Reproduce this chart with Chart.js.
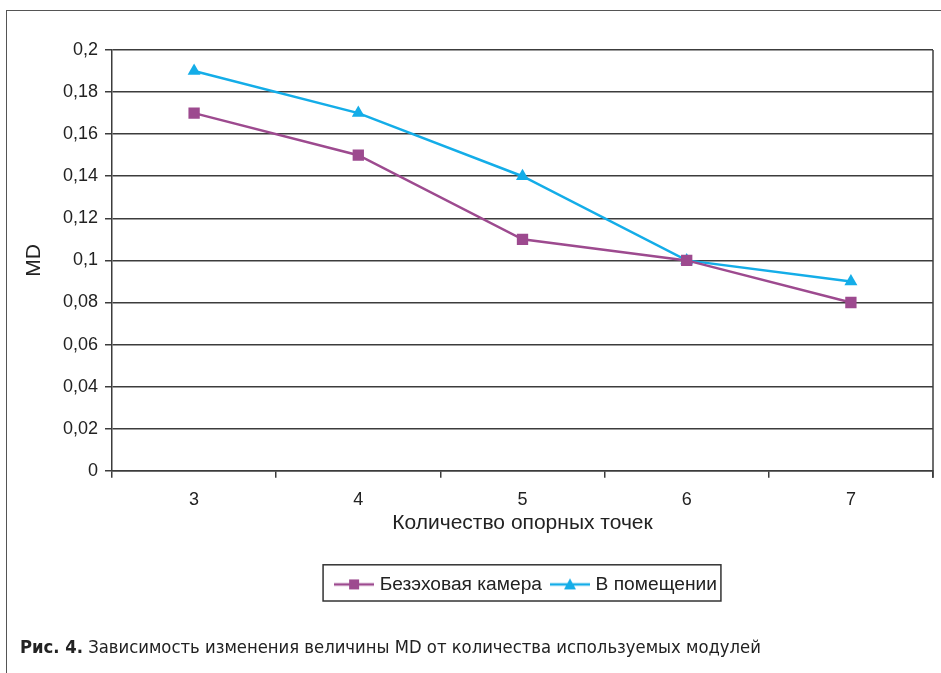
<!DOCTYPE html>
<html>
<head>
<meta charset="utf-8">
<script src="https://cdn.jsdelivr.net/npm/chart.js@4/dist/chart.umd.min.js"></script>
<style>
  html, body { margin: 0; padding: 0; background: #fff; }
  #wrap { position: relative; width: 941px; height: 673px; overflow: hidden; }
  #frame { position: absolute; left: 6px; top: 10px; width: 960px; height: 700px;
           border-top: 1.5px solid #555; border-left: 1.5px solid #555; }
  #chart { position: absolute; left: 0; top: 0; }
  #caption { position: absolute; left: 20px; top: 636px; font-family: "DejaVu Sans Condensed", "Liberation Sans Narrow", sans-serif;
             font-stretch: condensed; font-size: 18.3px; color: #222; white-space: nowrap; }
  #caption b { font-weight: bold; }
</style>
</head>
<body>
<div id="wrap">
  <div id="frame"></div>
  <canvas id="chart" width="941" height="673"></canvas>
  <div id="caption"><b>Рис. 4.</b> Зависимость изменения величины MD от количества используемых модулей</div>
</div>
<script>
// Number of reference points on the horizontal axis
const categories = ['3', '4', '5', '6', '7'];
// MD values for each measurement setup
const anechoicValues = [0.17, 0.15, 0.11, 0.10, 0.08];
const roomValues = [0.19, 0.17, 0.14, 0.10, 0.09];
// Vertical axis tick labels (comma decimal separator)
const yTickLabels = ['0', '0,02', '0,04', '0,06', '0,08', '0,1', '0,12', '0,14', '0,16', '0,18', '0,2'];

const seriesNames = ['Безэховая камера', 'В помещении'];
const colorA = '#9d4a8f';
const colorB = '#14ade8';
const gridColor = '#3c3c3c';
const family = 'Arial, "Liberation Sans", sans-serif';
const tickFont = { family, size: 18 };
const legendFont = { family, size: 19.2 };
const titleFont = { family, size: 21 };

// Excel-style legend swatch: a short line with the series marker in the middle
function swatch(color, style) {
  const c = document.createElement('canvas');
  c.width = 40; c.height = 14;
  const g = c.getContext('2d');
  g.strokeStyle = color; g.lineWidth = 2.5;
  g.beginPath(); g.moveTo(0, 7); g.lineTo(40, 7); g.stroke();
  g.fillStyle = color;
  if (style === 'rect') {
    g.fillRect(15, 2, 10, 10);
  } else {
    g.beginPath(); g.moveTo(20, 1); g.lineTo(26, 12); g.lineTo(14, 12); g.closePath(); g.fill();
  }
  return c;
}
const swatches = [swatch(colorA, 'rect'), swatch(colorB, 'triangle')];

// Right edge of the plot area, legend centring and the frame around the legend
const framePlugin = {
  id: 'frames',
  afterLayout(chart) {
    const lg = chart.legend, ca = chart.chartArea;
    const shift = (ca.left + ca.right) / 2 - (lg.left + lg.right) / 2 + 5;
    lg.left += shift; lg.right += shift;
  },
  beforeDatasetsDraw(chart) {
    const { ctx, chartArea } = chart;
    ctx.save();
    ctx.strokeStyle = gridColor; ctx.lineWidth = 1.5;
    ctx.beginPath();
    ctx.moveTo(chartArea.right, chartArea.top);
    ctx.lineTo(chartArea.right, chartArea.bottom + 7);
    ctx.stroke();
    ctx.restore();
  },
  afterDraw(chart) {
    const boxes = chart.legend.legendHitBoxes;
    if (!boxes || !boxes.length) return;
    let l = Infinity, r = -Infinity, t = Infinity, b = -Infinity;
    boxes.forEach(h => { l = Math.min(l, h.left); r = Math.max(r, h.left + h.width);
                         t = Math.min(t, h.top); b = Math.max(b, h.top + h.height); });
    const { ctx } = chart;
    ctx.save();
    ctx.strokeStyle = '#333'; ctx.lineWidth = 1.5;
    ctx.strokeRect(l - 15, t - 10, (r - l) + 19, (b - t) + 17);
    ctx.restore();
  }
};

new Chart(document.getElementById('chart'), {
  type: 'line',
  data: {
    labels: categories,
    datasets: [
      { label: seriesNames[0], data: anechoicValues, borderColor: colorA, backgroundColor: colorA,
        borderWidth: 2.5, pointStyle: 'rect', pointRadius: 8, pointHoverRadius: 8, pointBorderWidth: 0, tension: 0 },
      { label: seriesNames[1], data: roomValues, borderColor: colorB, backgroundColor: colorB,
        borderWidth: 2.5, pointStyle: 'triangle', pointRadius: 7.5, pointHoverRadius: 7.5, pointBorderWidth: 0, tension: 0 }
    ]
  },
  options: {
    responsive: false,
    animation: false,
    devicePixelRatio: 1,
    layout: { padding: { left: 0, right: 8, top: 50, bottom: 69 } },
    plugins: {
      tooltip: { enabled: false },
      legend: {
        position: 'bottom',
        labels: {
          color: '#222',
          font: legendFont,
          usePointStyle: true,
          pointStyleWidth: 32,
          padding: 12,
          generateLabels(chart) {
            return chart.data.datasets.map((ds, i) => ({
              text: ds.label, fillStyle: ds.backgroundColor, strokeStyle: ds.borderColor,
              lineWidth: 0, pointStyle: swatches[i], datasetIndex: i, fontColor: '#222'
            }));
          }
        }
      }
    },
    scales: {
      x: {
        type: 'category',
        offset: true,
        afterFit(scale) { scale.height = 92; },
        grid: { offset: true, drawOnChartArea: false, drawTicks: true, tickLength: 7, color: gridColor, lineWidth: 1.5 },
        border: { display: true, color: gridColor, width: 1.5 },
        ticks: { color: '#222', font: tickFont, padding: 11 },
        title: { display: true, text: 'Количество опорных точек', color: '#222', font: titleFont, padding: { top: 0, bottom: 27 } }
      },
      y: {
        min: 0, max: 0.2,
        afterFit(scale) { scale.width = 112; },
        afterBuildTicks(scale) {
          scale.ticks = yTickLabels.map((_, i) => ({ value: Math.round(i * 2) / 100 }));
        },
        grid: { color: gridColor, lineWidth: 1.5, tickLength: 7 },
        border: { display: true, color: gridColor, width: 1.5 },
        ticks: {
          color: '#222', font: tickFont, padding: 7,
          callback(value, index) { return yTickLabels[index]; }
        },
        title: { display: true, text: 'MD', color: '#222', font: titleFont, padding: { top: 22, bottom: 0 } }
      }
    }
  },
  plugins: [framePlugin]
});
</script>
</body>
</html>
